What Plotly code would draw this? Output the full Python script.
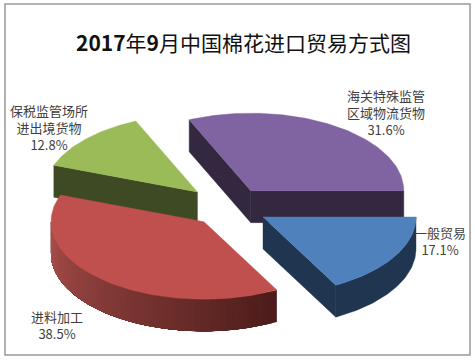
import numpy as np
import plotly.graph_objects as go

title = "<b>2017</b>年<b>9</b>月中国棉花进口贸易方式图"
categories = ["一般贸易", "进料加工", "保税监管场所<br>进出境货物", "海关特殊监管<br>区域物流货物"]
values = [17.1, 38.5, 12.8, 31.6]
top_colors = ["#4f81bd", "#c0504d", "#9bbb59", "#8064a2"]
side_colors = ["#1f3550", "#7a312f", "#3e4a23", "#33283f"]
explode = [39, 39, 44, 39]
label_x = [440, 57, 49, 386]
label_y = [241, 325, 127, 112]
draw_order = [2, 3, 1, 0]

WIDTH, HEIGHT = 475, 361
CX, CY = 229.5, 207
RX, RY = 153, 77.5
DEPTH = 32

fig = go.Figure()


def poly(xs, ys, color, width=0.4):
    fig.add_trace(go.Scatter(x=np.append(xs, xs[0]), y=np.append(ys, ys[0]), mode="lines",
                             fill="toself", fillcolor=color, line=dict(color=color, width=width),
                             hoverinfo="skip", showlegend=False))


def mix(a, b, t):
    return "rgb(%d,%d,%d)" % tuple(round(a[i] + (b[i] - a[i]) * t) for i in range(3))


edges = np.concatenate([[0], np.cumsum(values)]) / np.sum(values) * 2 * np.pi

for i in draw_order:
    a0, a1 = edges[i], edges[i + 1]
    mid = (a0 + a1) / 2
    cx = CX + explode[i] * np.cos(mid)
    cy = CY + explode[i] * 0.5 * np.sin(mid)
    t = np.linspace(a0, a1, 90)
    ax, ay = cx + RX * np.cos(t), cy + RY * np.sin(t)
    # cut faces that look towards the viewer
    for a, visible in ((a0, np.cos(a0) < 0), (a1, np.cos(a1) > 0)):
        if visible:
            ex, ey = cx + RX * np.cos(a), cy + RY * np.sin(a)
            poly(np.array([cx, ex, ex, cx]), np.array([cy, ey, ey + DEPTH, cy + DEPTH]), side_colors[i])
    # outer wall, front half only
    lo, hi = a0, min(a1, np.pi)
    if lo < np.pi:
        if i == 1:
            # painted from the far (dark) end to the light end, each band reaching under the next
            seg = np.linspace(lo, hi, 61)
            for k in range(len(seg) - 1):
                tt = np.linspace(seg[k], hi, 30)
                xs, ys = cx + RX * np.cos(tt), cy + RY * np.sin(tt)
                frac = (np.pi - seg[k]) / (np.pi - lo)
                col = mix((172, 80, 77), (76, 28, 26), frac)
                poly(np.concatenate([xs, xs[::-1]]), np.concatenate([ys, ys[::-1] + DEPTH]), col, 0)
        else:
            tt = np.linspace(lo, hi, 60)
            xs, ys = cx + RX * np.cos(tt), cy + RY * np.sin(tt)
            poly(np.concatenate([xs, xs[::-1]]), np.concatenate([ys, ys[::-1] + DEPTH]), side_colors[i])
    poly(np.concatenate([[cx], ax]), np.concatenate([[cy], ay]), top_colors[i])

annotations = [dict(x=243, y=42, text=title, showarrow=False,
                    font=dict(size=21, color="#111111", family="Noto Sans CJK SC"))]
for c, v, x, y in zip(categories, values, label_x, label_y):
    annotations.append(dict(x=x, y=y, text=f"{c}<br>{v}%", showarrow=False, align="center",
                            font=dict(size=13, color="#404040", family="Noto Sans CJK SC")))

fig.update_layout(
    width=WIDTH, height=HEIGHT, autosize=False,
    margin=dict(l=0, r=0, t=0, b=0),
    paper_bgcolor="white", plot_bgcolor="white", showlegend=False,
    xaxis=dict(range=[0, WIDTH], visible=False, fixedrange=True),
    yaxis=dict(range=[HEIGHT, 0], visible=False, fixedrange=True),
    annotations=annotations,
    shapes=[dict(type="rect", x0=5, x1=470, y0=4, y1=355, line=dict(color="#999999", width=1.5),
                 layer="below")],
)
fig.write_html("out.html", config=dict(displayModeBar=False),
               post_script="document.body.style.margin='0';document.body.style.overflow='hidden';")
